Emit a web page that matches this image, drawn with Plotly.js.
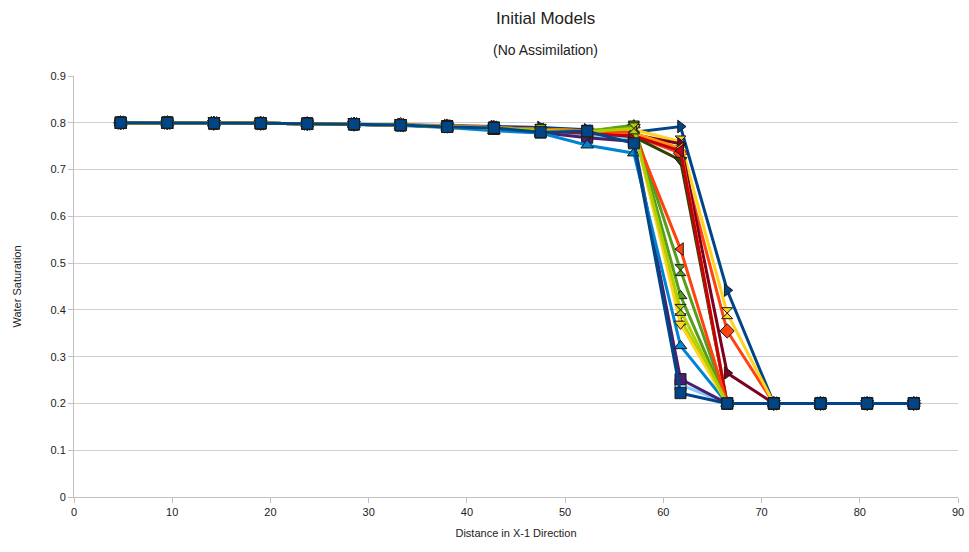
<!DOCTYPE html>
<html><head><meta charset="utf-8">
<script src="https://cdn.plot.ly/plotly-3.0.1.min.js"></script>
<style>html,body{margin:0;padding:0;background:#fff}</style>
</head><body>
<div id="chart" style="width:969px;height:552px"></div>
<script>
const xValues = [4.75, 9.5, 14.25, 19, 23.75, 28.5, 33.25, 38, 42.75, 47.5, 52.25, 57, 61.75, 66.5, 71.25, 76, 80.75, 85.5];

const seriesNames = ["Model 1","Model 2","Model 3","Model 4","Model 5","Model 6","Model 7","Model 8","Model 9","Model 10","Model 11","Model 12","Model 13","Model 14","Model 15","Model 16","Model 17"];
const seriesColors = ["#004586","#ff420e","#ffd320","#579d1c","#7e0021","#83caff","#314004","#aecf00","#4b1f6f","#ff950e","#c5000b","#0084d1","#ffd320","#579d1c","#ff420e","#aecf00","#004586"];
const seriesSymbols = ["triangle-right","diamond","hourglass","triangle-up","triangle-right","square","triangle-down","hourglass","square","triangle-left","triangle-left","triangle-up","triangle-down","hourglass","triangle-left","hourglass","square"];

const s1  = [0.800,0.800,0.800,0.799,0.798,0.797,0.796,0.794,0.792,0.790,0.785,0.780,0.792,0.442,0.200,0.200,0.200,0.200];
const s2  = [0.800,0.800,0.799,0.799,0.798,0.797,0.796,0.793,0.790,0.784,0.780,0.772,0.735,0.355,0.200,0.200,0.200,0.200];
const s3  = [0.800,0.800,0.799,0.799,0.798,0.797,0.795,0.793,0.790,0.785,0.783,0.785,0.760,0.393,0.200,0.200,0.200,0.200];
const s4  = [0.800,0.800,0.799,0.799,0.798,0.797,0.795,0.792,0.789,0.783,0.782,0.795,0.430,0.200,0.200,0.200,0.200,0.200];
const s5  = [0.800,0.800,0.799,0.799,0.798,0.797,0.795,0.792,0.789,0.783,0.776,0.775,0.755,0.265,0.200,0.200,0.200,0.200];
const s6  = [0.800,0.800,0.799,0.799,0.798,0.797,0.795,0.792,0.787,0.781,0.774,0.765,0.240,0.200,0.200,0.200,0.200,0.200];
const s7  = [0.800,0.800,0.799,0.799,0.798,0.797,0.795,0.792,0.789,0.784,0.779,0.770,0.720,0.200,0.200,0.200,0.200,0.200];
const s8  = [0.800,0.800,0.799,0.799,0.798,0.797,0.795,0.792,0.789,0.784,0.781,0.790,0.380,0.200,0.200,0.200,0.200,0.200];
const s9  = [0.800,0.800,0.799,0.799,0.798,0.797,0.795,0.791,0.787,0.779,0.768,0.760,0.252,0.200,0.200,0.200,0.200,0.200];
const s10 = [0.800,0.800,0.799,0.799,0.798,0.797,0.795,0.792,0.789,0.784,0.780,0.778,0.745,0.200,0.200,0.200,0.200,0.200];
const s11 = [0.800,0.800,0.799,0.799,0.798,0.797,0.795,0.792,0.789,0.783,0.778,0.772,0.740,0.200,0.200,0.200,0.200,0.200];
const s12 = [0.800,0.800,0.799,0.799,0.798,0.796,0.794,0.790,0.783,0.778,0.752,0.735,0.323,0.200,0.200,0.200,0.200,0.200];
const s13 = [0.800,0.800,0.799,0.799,0.798,0.797,0.795,0.792,0.789,0.785,0.783,0.790,0.370,0.200,0.200,0.200,0.200,0.200];
const s14 = [0.800,0.800,0.799,0.799,0.798,0.797,0.795,0.792,0.789,0.784,0.782,0.792,0.485,0.200,0.200,0.200,0.200,0.200];
const s15 = [0.800,0.800,0.799,0.799,0.798,0.797,0.795,0.793,0.790,0.786,0.782,0.780,0.530,0.200,0.200,0.200,0.200,0.200];
const s16 = [0.800,0.800,0.799,0.799,0.798,0.797,0.795,0.792,0.789,0.784,0.781,0.788,0.400,0.200,0.200,0.200,0.200,0.200];
const s17 = [0.800,0.800,0.799,0.799,0.798,0.797,0.795,0.791,0.789,0.780,0.782,0.756,0.222,0.200,0.200,0.200,0.200,0.200];

const allSeries = [s1,s2,s3,s4,s5,s6,s7,s8,s9,s10,s11,s12,s13,s14,s15,s16,s17];

const traces = allSeries.map((ys, i) => ({
  x: xValues, y: ys, name: seriesNames[i], type: 'scatter', mode: 'lines+markers',
  line: {color: seriesColors[i], width: 3},
  marker: {color: seriesColors[i], symbol: seriesSymbols[i], size: 11, line: {color: '#1a1a1a', width: 1}},
  cliponaxis: false
}));

const axisFont = {family: 'Liberation Sans, Arial, sans-serif', size: 11, color: '#222'};

const layout = {
  width: 969, height: 552,
  margin: {l: 74, r: 11, t: 76, b: 55},
  paper_bgcolor: '#fff', plot_bgcolor: '#fff',
  showlegend: false,
  font: axisFont,
  xaxis: {
    range: [0, 90], dtick: 10, tick0: 0,
    showgrid: false, zeroline: false,
    showline: true, linecolor: '#c0c0c0', linewidth: 1,
    ticks: 'outside', ticklen: 5, tickcolor: '#c0c0c0',
    tickfont: axisFont,
    title: {text: 'Distance in X-1 Direction', font: axisFont, standoff: 12}
  },
  yaxis: {
    range: [0, 0.9], dtick: 0.1, tick0: 0,
    tickformat: '.1~f',
    showgrid: true, gridcolor: '#cfcfcf', gridwidth: 1,
    zeroline: false,
    showline: true, linecolor: '#c0c0c0', linewidth: 1,
    ticks: 'outside', ticklen: 5, tickcolor: '#c0c0c0',
    tickfont: axisFont,
    title: {text: 'Water Saturation', font: axisFont, standoff: 26}
  },
  annotations: [
    {text: 'Initial Models', xref: 'paper', yref: 'paper', x: 0.533, y: 1, yshift: 58, xanchor: 'center', yanchor: 'middle', showarrow: false, font: {family: 'Liberation Sans, Arial, sans-serif', size: 17, color: '#222'}},
    {text: '(No Assimilation)', xref: 'paper', yref: 'paper', x: 0.533, y: 1, yshift: 26, xanchor: 'center', yanchor: 'middle', showarrow: false, font: {family: 'Liberation Sans, Arial, sans-serif', size: 14, color: '#222'}}
  ]
};

Plotly.newPlot('chart', traces, layout, {displayModeBar: false, staticPlot: true});
</script>
</body></html>
